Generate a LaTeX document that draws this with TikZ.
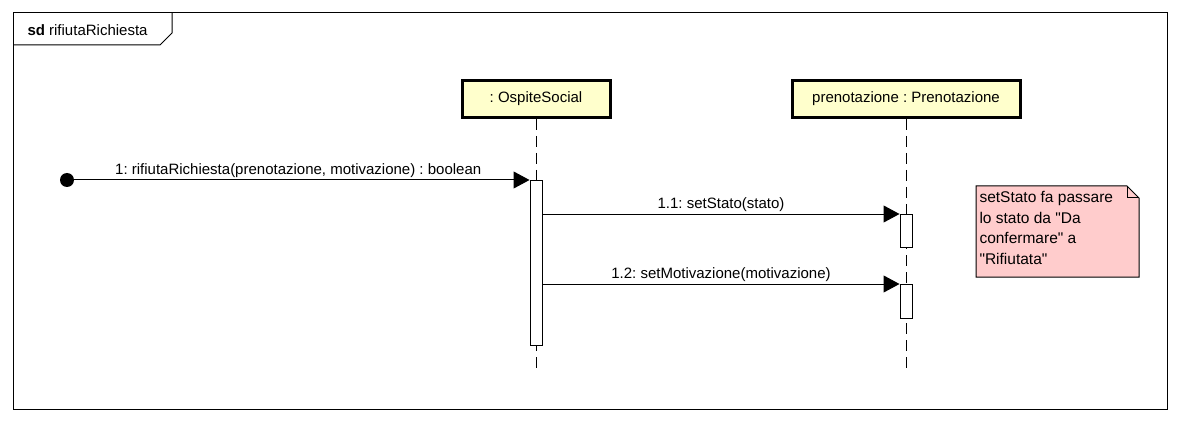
\documentclass[tikz,border=0pt]{standalone}
\usepackage{fontspec}
\setmainfont{Liberation Sans}[Ligatures=TeXOff]
\usetikzlibrary{arrows.meta,positioning}
\definecolor{headfill}{HTML}{FFFFCC}
\definecolor{notefill}{HTML}{FFCCCC}
\frenchspacing
\tikzset{
  lifehead/.style={draw,line width=3pt,fill=headfill,minimum height=37pt,inner sep=0pt},
  lifeline/.style={dash pattern=on 11pt off 6pt},
  actbox/.style={draw,fill=white,anchor=north,minimum width=12pt,inner sep=0pt},
  msg/.style={-{Triangle[length=16pt,width=17pt]}},
  msglabel/.style={above=1pt,inner sep=1pt}
}
\begin{document}
\begin{tikzpicture}[x=1pt,y=-1pt,line width=1pt,font=\fontsize{15}{18}\selectfont]
\useasboundingbox (0,0) rectangle (1180,422);

% frame
\draw (13,13) rectangle (1167,409);
\draw (13,45)--(160,45)--(172,33)--(172,13);
\node[anchor=west,inner sep=0pt] (sdlabel) at (27,30) {\textbf{sd} rifiutaRichiesta};

% lifelines
\node[lifehead,minimum width=148pt] (ospite) at (536,99) {: OspiteSocial};
\node[lifehead,minimum width=228pt] (pren) at (906,99) {prenotazione : Prenotazione};
\coordinate (ospiteend) at (536,368);
\coordinate (prenend) at (906,368);
\draw[lifeline] (ospite.south)--(ospiteend);
\draw[lifeline] (pren.south)--(prenend);

% activations
\node[actbox,minimum height=165pt] (act1) at (536,180) {};
\node[actbox,minimum height=33pt] (act2) at (906,214) {};
\node[actbox,minimum height=34pt] (act3) at (906,284) {};

% messages
\node[circle,fill,inner sep=0pt,minimum size=14pt] (start) at (67,180) {};
\draw[msg] (start.center)--(act1.north west)
  node[msglabel,midway] (m1) {1: rifiutaRichiesta(prenotazione, motivazione) : boolean};
\draw[msg] (act1.east |- act2.north)--(act2.north west)
  node[msglabel,midway] (m2) {1.1: setStato(stato)};
\draw[msg] (act1.east |- act3.north)--(act3.north west)
  node[msglabel,midway] (m3) {1.2: setMotivazione(motivazione)};

% note
\draw[fill=notefill] (976,186)--(1127,186)--(1139,198)--(1139,277)--(976,277)--cycle;
\draw (1127,186)--(1127,198)--(1139,198);
\node[anchor=north west,align=left,inner sep=0pt,font=\fontsize{15.5}{20.5}\selectfont] (note) at (979,191)
  {setStato fa passare\\lo stato da "Da\\confermare" a\\"Rifiutata"};

\end{tikzpicture}
\end{document}
